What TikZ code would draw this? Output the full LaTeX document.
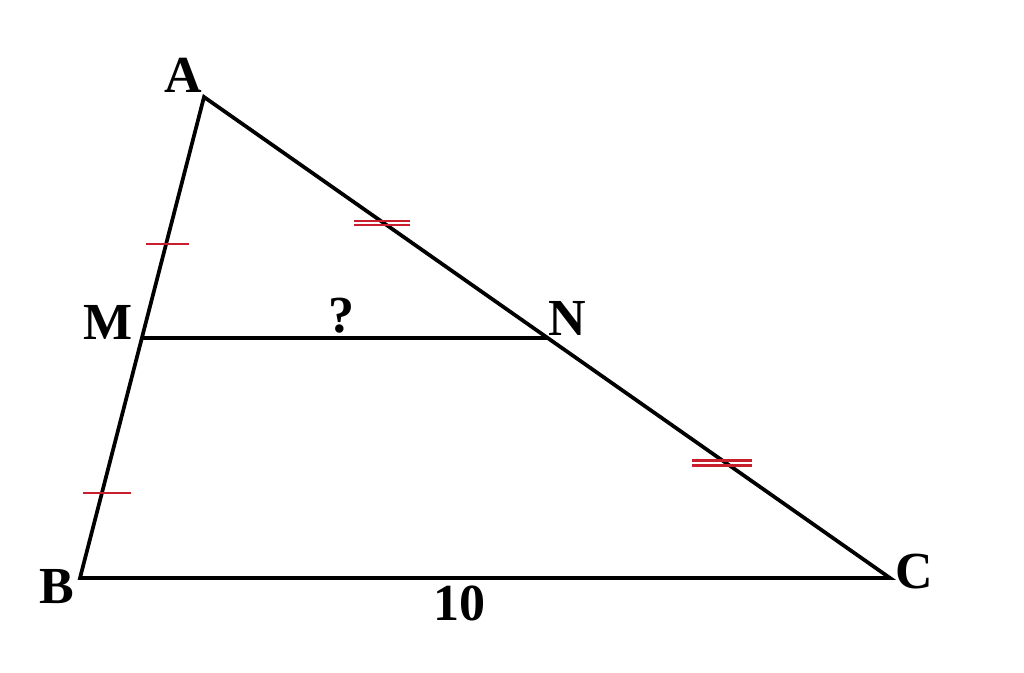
\documentclass[tikz,border=0pt]{standalone}
\usepackage{fontspec}
\setmainfont{Liberation Serif}
\usetikzlibrary{calc}
\begin{document}
\begin{tikzpicture}[x=0.75pt,y=-0.75pt,
  edge/.style={line width=2.8pt,line join=miter},
  tick/.style={draw={rgb,255:red,200;green,30;blue,45},line width=1.7pt},
  lbl/.style={inner sep=0pt,font=\fontsize{39}{43}\selectfont\bfseries}]
\useasboundingbox (0,0) rectangle (1024,673);
\coordinate (A) at (204,97);
\coordinate (B) at (80,578);
\coordinate (C) at (890,578);
\coordinate (M) at (142,338);
\coordinate (N) at (547,338);
\draw[edge] (A) -- (B) -- (C) -- cycle;
\draw[edge] (M) -- (N);
% single ticks on AB
\coordinate (t1) at (167.5,244);
\coordinate (t2) at (107,493);
\draw[tick] ($(t1)+(-21.5,0)$) -- ($(t1)+(21.5,0)$);
\draw[tick] ($(t2)+(-24,0)$) -- ($(t2)+(24,0)$);
% double ticks on AC
\coordinate (d1) at (382,223);
\coordinate (d2) at (722,463);
\draw[tick] ($(d1)+(-28,-2.3)$) -- ($(d1)+(28,-2.3)$);
\draw[tick] ($(d1)+(-28,2.3)$) -- ($(d1)+(28,2.3)$);
\draw[tick] ($(d2)+(-30,-2.6)$) -- ($(d2)+(30,-2.6)$);
\draw[tick] ($(d2)+(-30,2.6)$) -- ($(d2)+(30,2.6)$);
% labels
\node[lbl] (lA) at (183,75) {A};
\node[lbl] (lM) at (108,322) {M};
\node[lbl] (lN) at (567,318) {N};
\node[lbl] (lB) at (57,587) {B};
\node[lbl] (lC) at (914,572) {C};
\node[lbl] (lq) at (341,316) {?};
\node[lbl] (l10) at (459,603) {10};
\end{tikzpicture}
\end{document}
